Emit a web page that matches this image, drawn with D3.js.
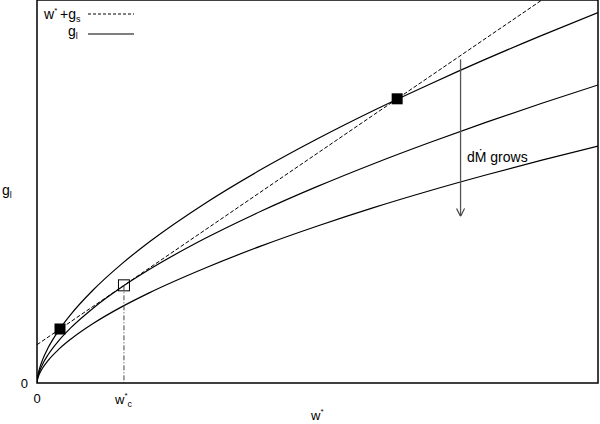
<!DOCTYPE html>
<html><head><meta charset="utf-8">
<script src="https://cdn.jsdelivr.net/npm/d3@7"></script>
<style>body{margin:0;background:#fff}svg{display:block;font-family:"Liberation Sans",Arial,sans-serif}</style>
</head><body>
<svg id="c" width="600" height="424"></svg>
<script>
// abstract units: x 0..100, y 0..100
const xs = [0, 0.05, 0.1, 0.25, 0.5, 1, 2, 4, 6, 10, 15, 20, 30, 40, 50, 60, 70, 80, 90, 100];
const gTop = [0, 1.01, 1.53, 2.65, 4.03, 6.10, 9.25, 14.01, 17.87, 24.28, 30.98, 36.81, 46.95, 55.79, 63.78, 71.16, 78.02, 84.55, 90.77, 96.69];
const gMid = [0, 0.81, 1.23, 2.14, 3.24, 4.91, 7.44, 11.28, 14.38, 19.54, 24.93, 29.62, 37.78, 44.90, 51.33, 57.26, 62.79, 68.04, 73.05, 77.81];
const gBot = [0, 0.65, 0.98, 1.70, 2.58, 3.90, 5.92, 8.96, 11.43, 15.53, 19.81, 23.54, 30.03, 35.80, 41.00, 45.80, 50.20, 54.30, 58.20, 61.85];
const dashedLine = [[0, 10], [90, 100]];
const filledPts = [[4.1, 14.1], [64.2, 74.2]];
const openPt = [15.5, 25.5];
const arrowX = 75.5, arrowY = [84.5, 43.5];
const labels = {legend1: "w", legend2: "g", xlab: "w", ylab: "g", wc: "w", ann: "dṀ grows"};

const svg = d3.select("#c");
const L = 37, R = 598, T = 0, B = 383;
const x = d3.scaleLinear().domain([0, 100]).range([L, R]);
const y = d3.scaleLinear().domain([0, 100]).range([B, T]);

svg.append("clipPath").attr("id", "clip").append("rect")
  .attr("x", L).attr("y", T).attr("width", R - L).attr("height", B - T);
const g = svg.append("g").attr("clip-path", "url(#clip)");

const line = d3.line().x(d => x(d[0])).y(d => y(d[1])).curve(d3.curveMonotoneX);
[gTop, gMid, gBot].forEach(arr => {
  g.append("path").datum(xs.map((v, i) => [v, arr[i]]))
    .attr("d", line).attr("fill", "none").attr("stroke", "#000").attr("stroke-width", 1.2);
});
g.append("path").datum(dashedLine).attr("d", d3.line().x(d => x(d[0])).y(d => y(d[1])))
  .attr("fill", "none").attr("stroke", "#000").attr("stroke-width", 1).attr("stroke-dasharray", "4,2");

// dash-dot vertical
svg.append("line").attr("x1", x(openPt[0])).attr("x2", x(openPt[0]))
  .attr("y1", y(openPt[1])).attr("y2", y(0))
  .attr("stroke", "#444").attr("stroke-width", 1).attr("stroke-dasharray", "5,2,1,2");

const s = 11;
svg.selectAll(".fsq").data(filledPts).enter().append("rect")
  .attr("x", d => x(d[0]) - s / 2).attr("y", d => y(d[1]) - s / 2)
  .attr("width", s).attr("height", s).attr("fill", "#000");
svg.append("rect").attr("x", x(openPt[0]) - s / 2).attr("y", y(openPt[1]) - s / 2)
  .attr("width", s).attr("height", s).attr("fill", "none").attr("stroke", "#000").attr("stroke-width", 1);

// arrow
svg.append("defs").append("marker").attr("id", "ah").attr("viewBox", "0 0 10 10")
  .attr("refX", 10).attr("refY", 5).attr("markerWidth", 8).attr("markerHeight", 9)
  .attr("markerUnits", "userSpaceOnUse").attr("orient", "auto")
  .append("path").attr("d", "M0,0L10,5L0,10").attr("fill", "none").attr("stroke", "#444").attr("stroke-width", 1.5);
svg.append("line").attr("x1", x(arrowX)).attr("x2", x(arrowX)).attr("y1", y(arrowY[0])).attr("y2", y(arrowY[1]))
  .attr("stroke", "#555").attr("stroke-width", 1.3).attr("marker-end", "url(#ah)");
svg.append("text").attr("x", 467).attr("y", 162).attr("font-size", 14).text(labels.ann);

// frame
svg.append("rect").attr("x", L).attr("y", T).attr("width", R - L).attr("height", B - T)
  .attr("fill", "none").attr("stroke", "#000").attr("stroke-width", 1.5);

// ticks labels
svg.append("text").attr("x", 28).attr("y", y(0) + 5).attr("font-size", 13).attr("text-anchor", "end").text("0");
svg.append("text").attr("x", x(0)).attr("y", 403).attr("font-size", 13).attr("text-anchor", "middle").text("0");

function sub(t, base, sup, sb) {
  t.append("tspan").text(base);
  if (sup) t.append("tspan").attr("font-size", 8).attr("dy", -6).text(sup);
  if (sb) t.append("tspan").attr("font-size", 9).attr("dy", sup ? 9 : 3).text(sb);
}
// w*_c
sub(svg.append("text").attr("x", 115).attr("y", 404).attr("font-size", 13), labels.wc, "*", "c");
// x label
sub(svg.append("text").attr("x", 311).attr("y", 420).attr("font-size", 13), labels.xlab, "*", null);
// y label
sub(svg.append("text").attr("x", 2).attr("y", 195).attr("font-size", 14), labels.ylab, null, "l");

// legend
sub(svg.append("text").attr("x", 44).attr("y", 19).attr("font-size", 14), labels.legend1, "*", null)
const lt = svg.append("text").attr("x", 60).attr("y", 19).attr("font-size", 14);
lt.append("tspan").text("+g"); lt.append("tspan").attr("font-size", 9).attr("dy", 3).text("s");
sub(svg.append("text").attr("x", 68).attr("y", 36).attr("font-size", 14), labels.legend2, null, "l");
svg.append("line").attr("x1", 88).attr("x2", 134).attr("y1", 14).attr("y2", 14)
  .attr("stroke", "#000").attr("stroke-dasharray", "3,2");
svg.append("line").attr("x1", 88).attr("x2", 134).attr("y1", 34).attr("y2", 34)
  .attr("stroke", "#000").attr("stroke-width", 1.2);
</script></body></html>
